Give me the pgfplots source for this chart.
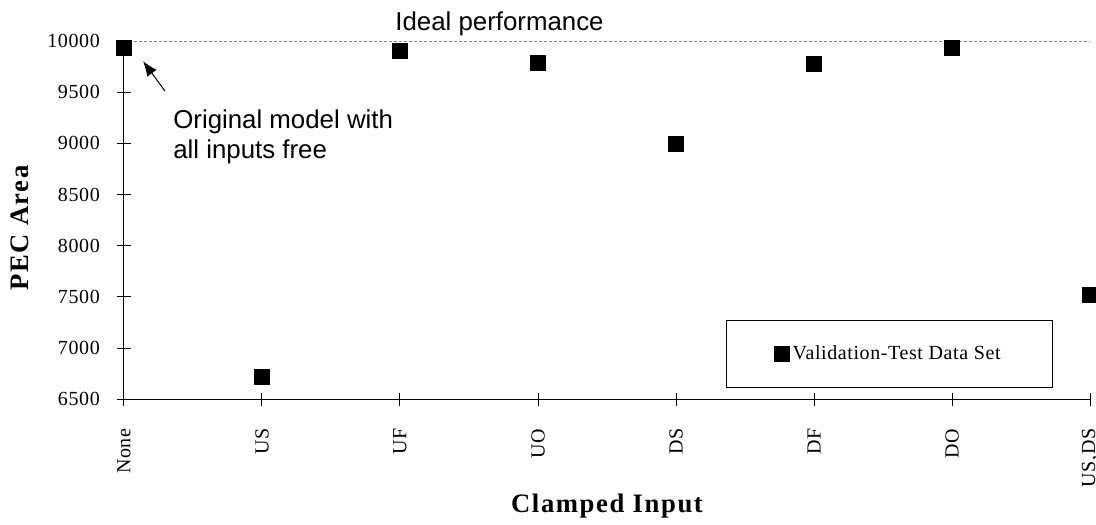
\documentclass[border=0pt]{standalone}
\usepackage{fontspec}
\setmainfont{Liberation Serif}
\newfontfamily\sansann{Liberation Sans}
\newfontfamily\spacedserif{Liberation Serif}[LetterSpace=3]
\newfontfamily\labelfont{Liberation Serif}[LetterSpace=6]
\usepackage{pgfplots}
\pgfplotsset{compat=1.18}
\usetikzlibrary{arrows.meta}
\begin{document}
\begin{tikzpicture}
\begin{axis}[
  scale only axis, width=579.6pt, height=215pt,
  xmin=0, xmax=7, ymin=6500, ymax=10000,
  clip=false,
  axis lines=left, axis line style={-, black, line width=0.6pt},
  xtick={0,...,7}, xticklabels={None,US,UF,UO,DS,DF,DO,{US,DS}},
  ytick={6500,7000,...,10000},
  scaled y ticks=false,
  tick align=center, major tick length=8pt, tick style={black, line width=0.6pt},
  /pgf/number format/1000 sep={}, /pgf/number format/assume math mode=true,
  ticklabel style={font=\spacedserif\fontsize{12}{14}\selectfont},
  xticklabel style={rotate=90, anchor=east},
  xticklabel shift=10pt, yticklabel shift=7pt,
  xlabel={Clamped Input}, ylabel={PEC Area},
  label style={font=\labelfont\bfseries\fontsize{16}{18}\selectfont},
  xlabel style={at={([yshift=-64pt]axis description cs:0.5,0)}, anchor=center},
  ylabel style={at={([xshift=-62.4pt]axis description cs:0,0.478)}, anchor=center},
  legend style={at={(0.9614,0.0315)}, anchor=south east, draw=black, line width=0.6pt,
    inner xsep=29pt, inner ysep=13.2pt, font=\spacedserif\fontsize{12}{14}\selectfont},
]
\addplot[gray, dash pattern=on 2pt off 1pt, line width=0.5pt, forget plot]
  coordinates {(0,10000) (7,10000)};
\addplot[only marks, mark=square*, mark size=4.5pt, black, mark options={fill=black}]
  coordinates {(0,9937) (1,6716) (2,9900) (3,9786) (4,8995) (5,9781) (6,9937) (7,7519)};
\addlegendentry{Validation-Test Data Set}
\draw[-{Latex[length=9pt,width=7pt]}, line width=0.6pt] (axis cs:0.297,9511) -- (axis cs:0.138,9804);
\node[anchor=base west, inner sep=0pt, font=\sansann\fontsize{15.5}{18.2}\selectfont] at (axis cs:0.355,9150) {Original model with};
\node[anchor=base west, inner sep=0pt, font=\sansann\fontsize{15.5}{18.2}\selectfont] at (axis cs:0.355,8854) {all inputs free};
\node[anchor=base west, inner sep=0pt, font=\sansann\fontsize{15.5}{18.2}\selectfont] at (axis cs:1.964,10107) {Ideal performance};
\end{axis}
\pgfresetboundingbox
\path[use as bounding box] ([shift={(-74.4pt,-75.4pt)}]current axis.south west) rectangle ([shift={(583.2pt,239.6pt)}]current axis.south west);
\end{tikzpicture}
\end{document}
